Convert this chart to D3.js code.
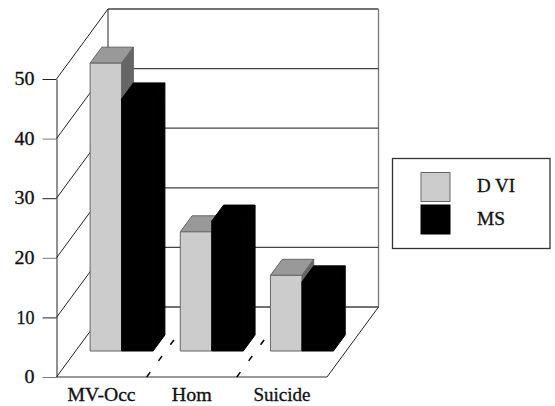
<!DOCTYPE html>
<html><head><meta charset="utf-8">
<script src="https://cdnjs.cloudflare.com/ajax/libs/d3/7.8.5/d3.min.js"></script>
<style>html,body{margin:0;background:#fff}svg{display:block}text{font-family:"Liberation Serif",serif;font-size:18px;fill:#111;stroke:#111;stroke-width:.3px}</style>
</head><body><svg id="c" width="555" height="406"></svg>
<script>
const categories = ["MV-Occ", "Hom", "Suicide"];
const seriesNames = ["D VI", "MS"];
const dvi = [48.3, 20.0, 12.7];
const ms = [42.3, 21.8, 11.6];
const tickValues = [0, 10, 20, 30, 40, 50];
const grayTicks = [0, 20, 40];

const svg = d3.select("#c");
const y = d3.scaleLinear().domain([0, 50]).range([377, 79]);
const x0 = d3.scaleBand().domain(categories).range([56.5, 327]);
const depthX = d3.scaleLinear().domain([0, 1]).range([0, 51.5]);
const depthY = d3.scaleLinear().domain([0, 1]).range([0, -70]);
const x1 = d3.scaleBand().domain(seriesNames).range([0, 63]);
const line = d3.line();
const barBase = 0.371, barDepth = 0.229, barLead = 14.5;
const DARK = "#222222", MID = "#444444", GRAY = "#777777";
const seriesStyle = {
  "D VI": {front: "#cccccc", top: "#999999", side: "#666666", stroke: "#666666"},
  "MS": {front: "#000000", top: "#000000", side: "#000000", stroke: "#000000"}
};
const P = (x, v, d) => [x + depthX(d), y(v) + depthY(d)];
const g = svg.append("g").attr("fill", "none").attr("stroke-width", 1);
const seg = (pts, c = DARK, w = 1) => g.append("path").attr("d", line(pts)).attr("stroke", c).attr("stroke-width", w).attr("fill", "none");

const xl = x0.range()[0], xr = x0.range()[1];
// back wall
seg([P(xl, 50, 1), P(xl, 0, 1)]);
seg([P(xl, 50, 1), P(xr, 50, 1)], MID, 1.3);
seg([P(xr, 50, 1), P(xr, 0, 1)], GRAY, 1.3);
// gridlines on left and back wall
tickValues.forEach(v => {
  seg([P(xl, v, 0), P(xl, v, 1)]);
  if (v < 50) seg([P(xl, v, 1), P(xr, v, 1)], MID, 1.3);
});
// floor
seg([P(xr, 0, 1), P(xr, 0, 0)]);
seg([P(xl, 0, 0), P(xr, 0, 0)], GRAY, 1.3);

// category separators
categories.slice(1).forEach(c => {
  g.append("path").attr("d", line([P(x0(c), 0, 0), P(x0(c), 0, 0.53)]))
    .attr("stroke", "#000").attr("stroke-width", 1.5).attr("stroke-dasharray", "6 14");
});

// bars
categories.forEach((c, i) => {
  [dvi, ms].forEach((vals, k) => {
    const s = seriesNames[k], st = seriesStyle[s], v = vals[i];
    const a = x0(c) + barLead + x1(s), b = a + x1.bandwidth();
    const d0 = barBase, d1 = barBase + barDepth;
    const faces = [
      [[P(a, v, d0), P(b, v, d0), P(b, v, d1), P(a, v, d1)], st.top],
      [[P(b, 0, d0), P(b, v, d0), P(b, v, d1), P(b, 0, d1)], st.side],
      [[P(a, 0, d0), P(b, 0, d0), P(b, v, d0), P(a, v, d0)], st.front]
    ];
    faces.forEach(([pts, fill]) => {
      g.append("path").attr("d", line(pts) + "Z").attr("fill", fill)
        .attr("stroke", st.stroke).attr("stroke-linejoin", "round");
    });
  });
});

// value axis
const axL = svg.append("g").attr("transform", `translate(${xl},0)`)
  .call(d3.axisLeft(y).tickValues(tickValues).tickSize(14).tickSizeOuter(0).tickPadding(8));
axL.select(".domain").attr("stroke", DARK);
axL.selectAll(".tick line").attr("stroke", d => grayTicks.includes(d) ? GRAY : DARK);
axL.selectAll("text").attr("text-anchor", "end")
  .attr("lengthAdjust", "spacingAndGlyphs")
  .attr("textLength", d => d === 0 ? 10 : d === 10 ? 18 : 20);

// category axis
const catWidth = {"MV-Occ": 68, "Hom": 40, "Suicide": 57};
const axB = svg.append("g").attr("transform", "translate(0,377)")
  .call(d3.axisBottom(x0).tickSize(0).tickPadding(11));
axB.select(".domain").remove();
axB.selectAll("text").attr("textLength", d => catWidth[d]).attr("lengthAdjust", "spacingAndGlyphs");

// legend
const lg = svg.append("g");
lg.append("rect").attr("x", 392.5).attr("y", 158.5).attr("width", 157.5).attr("height", 90)
  .attr("fill", "#fff").attr("stroke", "#333").attr("stroke-width", 1.3);
const legY = d3.scaleBand().domain(seriesNames).range([172, 237]);
const legWidth = {"D VI": 38, "MS": 28};
seriesNames.forEach(s => {
  lg.append("rect").attr("x", 421).attr("y", legY(s) + .5).attr("width", 29).attr("height", 29)
    .attr("fill", seriesStyle[s].front).attr("stroke", seriesStyle[s].stroke);
  lg.append("text").attr("x", 477).attr("y", legY(s) + 20).text(s)
    .attr("textLength", legWidth[s]).attr("lengthAdjust", "spacingAndGlyphs");
});
</script></body></html>
